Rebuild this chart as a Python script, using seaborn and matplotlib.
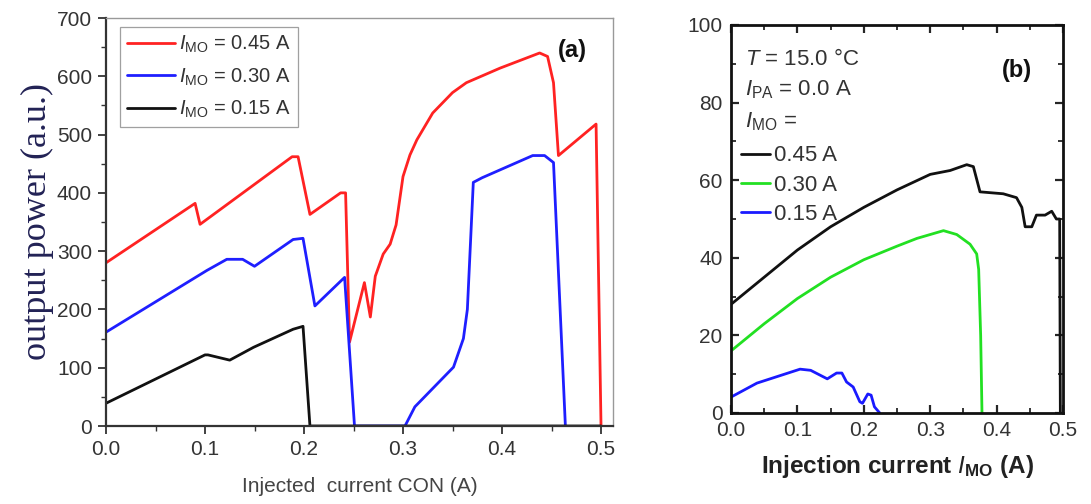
import numpy as np
import pandas as pd
import matplotlib
matplotlib.use("Agg")
import matplotlib.pyplot as plt
import seaborn as sns
from matplotlib.ticker import MultipleLocator

# ---------------- data: panel (a) ----------------
a_labels = [r"$I_{\mathrm{MO}}$ = 0.45 A", r"$I_{\mathrm{MO}}$ = 0.30 A", r"$I_{\mathrm{MO}}$ = 0.15 A"]
a_colors = ["#ff2222", "#1f1fff", "#111111"]

a_red_x = [0, 0.09, 0.095, 0.188, 0.194, 0.206, 0.237, 0.242, 0.246, 0.261, 0.267, 0.272,
           0.280, 0.287, 0.293, 0.300, 0.307, 0.314, 0.330, 0.350, 0.364, 0.398, 0.438,
           0.446, 0.452, 0.457, 0.495, 0.500]
a_red_y = [280, 382, 346, 462, 462, 363, 400, 400, 144, 246, 187, 257,
           295, 312, 345, 428, 465, 491, 537, 572, 589, 614, 640,
           634, 589, 464, 518, 0]

a_blue_x = [0, 0.102, 0.122, 0.138, 0.150, 0.189, 0.199, 0.211, 0.241, 0.251, 0.302,
            0.312, 0.351, 0.361, 0.365, 0.371, 0.380, 0.431, 0.443, 0.452, 0.464]
a_blue_y = [161, 267, 286, 286, 274, 320, 322, 206, 255, 0, 0,
            33, 101, 150, 200, 418, 426, 464, 464, 452, 0]

a_black_x = [0, 0.1, 0.103, 0.125, 0.149, 0.189, 0.199, 0.206, 0.5]
a_black_y = [39, 122, 122, 113, 135, 166, 171, 0, 0]

# ---------------- data: panel (b) ----------------
b_labels = ["0.45 A", "0.30 A", "0.15 A"]
b_colors = ["#111111", "#22e022", "#1a1aff"]

b_black_x = [0, 0.05, 0.1, 0.15, 0.2, 0.25, 0.3, 0.33, 0.355, 0.365, 0.375, 0.41, 0.43,
             0.438, 0.443, 0.453, 0.46, 0.473, 0.483, 0.49, 0.495, 0.496]
b_black_y = [28, 35, 42, 48, 53, 57.5, 61.5, 62.5, 64, 63.5, 57, 56.5, 55.5,
             53, 48, 48, 51, 51, 52, 50, 50, 0]

b_green_x = [0, 0.05, 0.1, 0.15, 0.2, 0.25, 0.28, 0.32, 0.34, 0.36, 0.37, 0.373, 0.376, 0.378]
b_green_y = [16, 23, 29.5, 35, 39.5, 43, 45, 47, 46, 43.5, 41, 37, 20, 0]

b_blue_x = [0, 0.039, 0.104, 0.12, 0.145, 0.159, 0.167, 0.174, 0.184, 0.194, 0.198,
            0.206, 0.211, 0.216, 0.224]
b_blue_y = [4.1, 7.7, 11.3, 11, 8.8, 10.3, 10.3, 8, 6.7, 2.9, 2.5, 4.9, 4.6, 1.6, 0]

a_xticks = [0.0, 0.1, 0.2, 0.3, 0.4, 0.5]
a_yticks = [0, 100, 200, 300, 400, 500, 600, 700]
b_xticks = [0.0, 0.1, 0.2, 0.3, 0.4, 0.5]
b_yticks = [0, 20, 40, 60, 80, 100]

# ---------------- style ----------------
sns.set_theme(style="ticks")
plt.rcParams["font.family"] = ["Liberation Sans", "DejaVu Sans"]
plt.rcParams["mathtext.fontset"] = "custom"
plt.rcParams["mathtext.rm"] = "Liberation Sans"
plt.rcParams["mathtext.it"] = "Liberation Sans:italic"
plt.rcParams["mathtext.bf"] = "Liberation Sans:bold"


def long_df(xs, ys, labels):
    frames = []
    for x, y, lab in zip(xs, ys, labels):
        frames.append(pd.DataFrame({"x": x, "y": y, "series": lab, "order": np.arange(len(x))}))
    return pd.concat(frames, ignore_index=True)


W, H = 1091, 504
fig = plt.figure(figsize=(W / 100, H / 100), dpi=100)
ax_a = fig.add_axes([106 / W, 1 - 426 / H, (613 - 106) / W, (426 - 18) / H])
ax_b = fig.add_axes([731 / W, 1 - 413 / H, (1063 - 731) / W, (413 - 25) / H])

# ---------------- panel (a) ----------------
df_a = long_df([a_red_x, a_blue_x, a_black_x], [a_red_y, a_blue_y, a_black_y], a_labels)
sns.lineplot(data=df_a, x="x", y="y", hue="series", hue_order=a_labels, palette=a_colors,
             sort=False, estimator=None, linewidth=2.0, ax=ax_a)
ax_a.set_xlim(0, 0.5121)
ax_a.set_ylim(0, 700)
ax_a.set_xticks(a_xticks)
ax_a.set_xticklabels([f"{t:.1f}" for t in a_xticks])
ax_a.set_yticks(a_yticks)
ax_a.xaxis.set_minor_locator(MultipleLocator(0.05))
ax_a.yaxis.set_minor_locator(MultipleLocator(50))
ax_a.tick_params(axis="both", which="major", direction="out", length=6, width=1.3,
                 labelsize=15, colors="#333333", labelcolor="#333333", pad=4)
ax_a.tick_params(axis="both", which="minor", direction="out", length=3.5, width=1.0, colors="#333333")
for s in ["left", "bottom"]:
    ax_a.spines[s].set_linewidth(1.6)
    ax_a.spines[s].set_color("#333333")
for s in ["top", "right"]:
    ax_a.spines[s].set_visible(True)
    ax_a.spines[s].set_linewidth(1.0)
    ax_a.spines[s].set_color("#999999")
ax_a.set_xlabel("Injected  current CON (A)", fontsize=15, color="#444444", labelpad=13)
ax_a.set_ylabel("output power (a.u.)", fontsize=26, color="#222255",
                family=["Liberation Serif", "DejaVu Serif"], labelpad=2)
h, l = ax_a.get_legend_handles_labels()
leg = ax_a.legend(h, l, loc="upper left", bbox_to_anchor=(0.027, 0.978), fontsize=14.5,
                  frameon=True, fancybox=False, edgecolor="#888888", handlelength=2.4,
                  handletextpad=0.2, labelspacing=0.55, borderpad=0.35, borderaxespad=0)
leg.get_frame().set_linewidth(0.9)
for t in leg.get_texts():
    t.set_color("#333333")
ax_a.text(572, H - 50, "(a)", transform=None, fontsize=17, fontweight="bold",
          ha="center", va="center", color="#111111")

# ---------------- panel (b) ----------------
df_b = long_df([b_black_x, b_green_x, b_blue_x], [b_black_y, b_green_y, b_blue_y], b_labels)
sns.lineplot(data=df_b, x="x", y="y", hue="series", hue_order=b_labels, palette=b_colors,
             sort=False, estimator=None, linewidth=2.0, ax=ax_b)
ax_b.set_xlim(0, 0.5)
ax_b.set_ylim(0, 100)
ax_b.set_xticks(b_xticks)
ax_b.set_xticklabels([f"{t:.1f}" for t in b_xticks])
ax_b.set_yticks(b_yticks)
ax_b.xaxis.set_minor_locator(MultipleLocator(0.05))
ax_b.yaxis.set_minor_locator(MultipleLocator(10))
ax_b.tick_params(axis="both", which="major", direction="in", length=6, width=1.6,
                 top=True, right=True, labelsize=15, labelcolor="#333333", pad=6)
ax_b.tick_params(axis="both", which="minor", direction="in", length=3.5, width=1.3,
                 top=True, right=True)
for s in ["left", "bottom", "top", "right"]:
    ax_b.spines[s].set_visible(True)
    ax_b.spines[s].set_linewidth(2.0)
    ax_b.spines[s].set_color("#111111")
ax_b.set_xlabel(r"Injection current $\mathbf{\mathit{I}}_{\mathbf{MO}}$ (A)", fontsize=17.5,
                fontweight="bold", color="#222222", labelpad=9)
ax_b.set_ylabel("")
h, l = ax_b.get_legend_handles_labels()
leg_b = ax_b.legend(h, l, loc="upper left", bbox_to_anchor=(0.03, 0.69), fontsize=16,
                    frameon=False, handlelength=1.3, handletextpad=0.2, labelspacing=0.38,
                    borderpad=0, borderaxespad=0)
for t in leg_b.get_texts():
    t.set_color("#333333")
ax_b.text(0.042, 0.91, r"$T$ = 15.0 °C", transform=ax_b.transAxes, fontsize=16,
          color="#333333", va="center", ha="left")
ax_b.text(0.042, 0.832, r"$I_{\mathrm{PA}}$ = 0.0 A", transform=ax_b.transAxes, fontsize=16,
          color="#333333", va="center", ha="left")
ax_b.text(0.042, 0.752, r"$I_{\mathrm{MO}}$ =", transform=ax_b.transAxes, fontsize=16,
          color="#333333", va="center", ha="left")
ax_b.text(1017, H - 70, "(b)", transform=None, fontsize=17, fontweight="bold",
          ha="center", va="center", color="#111111")

fig.savefig("out.png", dpi=100)
